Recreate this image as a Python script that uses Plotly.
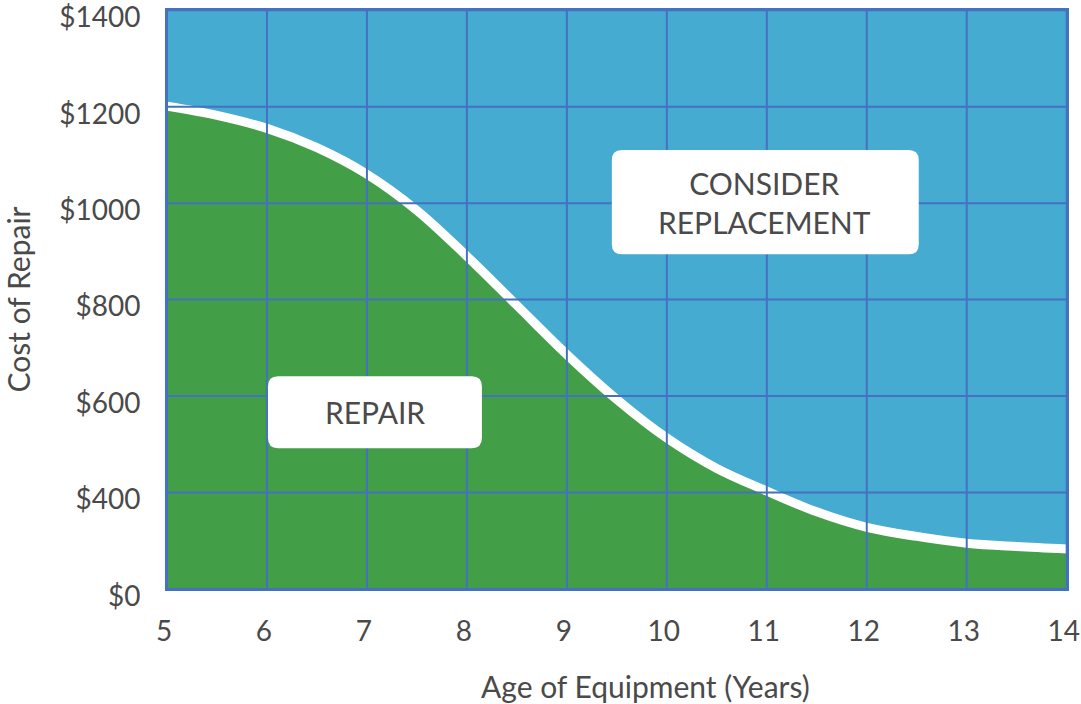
import plotly.graph_objects as go

# ---- data ----
age_years = [5, 5.5, 6, 6.5, 7, 7.5, 8, 8.5, 9, 9.5, 10, 10.5, 11, 11.5, 12, 12.5, 13, 13.5, 14]
# curve height in axis units (axis grid positions 0..1200)
repair_curve = [1001, 982, 955, 915, 860, 785, 690, 588, 486, 393, 313, 250, 203, 160, 128, 109, 95, 88, 83]

x_ticks = [5, 6, 7, 8, 9, 10, 11, 12, 13, 14]
y_tickvals = [0, 200, 400, 600, 800, 1000, 1200]
y_ticktext = ["$0", "$400", "$600", "$800", "$1000", "$1200", "$1400"]

BLUE = "#45abd0"
GREEN = "#429e47"
GRID = "#4471c1"
TEXT = "#4a4a4a"
FONT = "Lato"

fig = go.Figure()
fig.add_trace(go.Scatter(
    x=age_years, y=repair_curve, mode="lines", line_shape="spline",
    fill="tozeroy", fillcolor=GREEN,
    line=dict(color="white", width=9), hoverinfo="skip", showlegend=False,
))

shapes = []
# grid lines drawn above the fill
for xv in x_ticks:
    shapes.append(dict(type="line", xref="x", yref="y", x0=xv, x1=xv, y0=0, y1=1200,
                       line=dict(color=GRID, width=2), layer="above"))
for yv in y_tickvals:
    shapes.append(dict(type="line", xref="x", yref="y", x0=5, x1=14, y0=yv, y1=yv,
                       line=dict(color=GRID, width=2), layer="above"))


def rounded_box(x0, x1, y0, y1, rx=0.1, ry=21):
    p = (f"M {x0+rx},{y0} L {x1-rx},{y0} Q {x1},{y0} {x1},{y0+ry} "
         f"L {x1},{y1-ry} Q {x1},{y1} {x1-rx},{y1} L {x0+rx},{y1} "
         f"Q {x0},{y1} {x0},{y1-ry} L {x0},{y0+ry} Q {x0},{y0} {x0+rx},{y0} Z")
    return dict(type="path", xref="x", yref="y", path=p, fillcolor="white",
                line=dict(width=0), layer="above")


shapes.append(rounded_box(9.45, 12.52, 694, 910))
shapes.append(rounded_box(6.01, 8.15, 292, 441))

annotations = [
    dict(x=10.98, y=802, xref="x", yref="y", text="CONSIDER<br>REPLACEMENT",
         showarrow=False, font=dict(family=FONT, size=30, color=TEXT), align="center"),
    dict(x=7.08, y=366, xref="x", yref="y", text="REPAIR",
         showarrow=False, font=dict(family=FONT, size=30, color=TEXT)),
    dict(x=(645 - 167) / 900, y=(589 - 686) / 579, xref="paper", yref="paper",
         text="Age of Equipment (Years)", showarrow=False,
         font=dict(family=FONT, size=30, color=TEXT), xanchor="center", yanchor="middle"),
    dict(x=(17 - 167) / 900, y=0.5, xref="paper", yref="paper",
         text="Cost of Repair", showarrow=False, textangle=-90,
         font=dict(family=FONT, size=30, color=TEXT), xanchor="center", yanchor="middle"),
]

fig.update_layout(
    width=1081, height=704,
    margin=dict(l=167, r=14, t=10, b=115, autoexpand=False),
    paper_bgcolor="white", plot_bgcolor=BLUE,
    shapes=shapes, annotations=annotations,
    font=dict(family=FONT, color=TEXT, size=28),
    xaxis=dict(range=[5, 14.003], tickvals=x_ticks, showgrid=False, zeroline=False,
               showline=True, linecolor=GRID, linewidth=2, mirror=True,
               ticks="", ticklabelstandoff=16, ticklabelshift=-3,
               ticklabeloverflow="allow", automargin=False,
               tickfont=dict(size=28, color=TEXT)),
    yaxis=dict(range=[0, 1200.5], tickvals=y_tickvals, ticktext=y_ticktext,
               showgrid=False, zeroline=False, showline=True, linecolor=GRID,
               linewidth=2, mirror=True, ticks="", ticklabelstandoff=19,
               ticklabelshift=7, ticklabeloverflow="allow", automargin=False,
               tickfont=dict(size=28, color=TEXT)),
)

fig.write_html("out.html", config={"displayModeBar": False},
               post_script="document.body.style.margin='0';")
